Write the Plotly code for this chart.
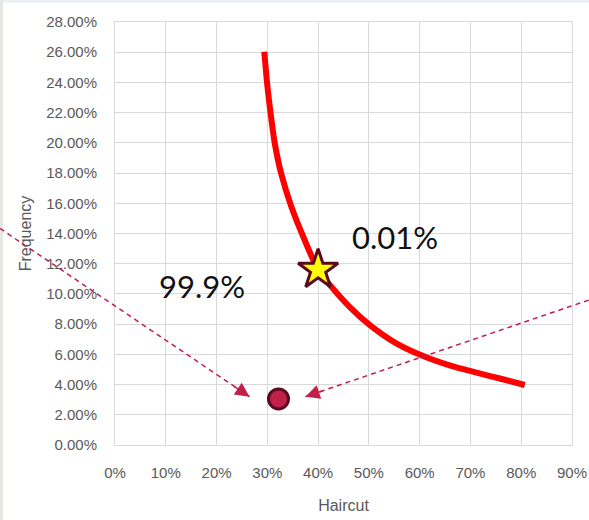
import plotly.graph_objects as go

# ---- data ----
curve_x = [0.294, 0.300, 0.307, 0.315, 0.327, 0.347, 0.373, 0.400, 0.423, 0.462, 0.502, 0.554, 0.607, 0.659, 0.712, 0.758, 0.807]
curve_y = [0.2603, 0.238, 0.218, 0.199, 0.180, 0.158, 0.136, 0.116, 0.106, 0.0915, 0.0794, 0.0673, 0.0589, 0.0527, 0.0479, 0.0440, 0.0397]

star_x = [0.400]
star_y = [0.116]

dot_x = [0.322]
dot_y = [0.0305]

# dashed arrows: start (outside plot) -> tip
arrow_start_x = [-0.30, 1.00]
arrow_start_y = [0.160, 0.1036]
arrow_tip_x = [0.265, 0.375]
arrow_tip_y = [0.032, 0.032]

label_text = ["99.9%", "0.01%"]
label_x = [0.172, 0.551]
label_y = [0.105, 0.138]

x_range = [0, 0.9]
y_range = [0, 0.28]

# ---- style ----
RED = "#FF0000"
CRIMSON = "#C0204A"
DARK = "#5A0A1E"
GRID = "#D9D9D9"
TICK = "#595959"

W, H = 589, 520
ML, MR, MT, MB = 115, 17, 22, 75

fig = go.Figure()

fig.add_trace(go.Scatter(
    x=curve_x, y=curve_y, mode="lines",
    line=dict(color=RED, width=6, shape="spline", smoothing=0.8),
    hoverinfo="skip", showlegend=False))

fig.add_trace(go.Scatter(
    x=star_x, y=star_y, mode="markers",
    marker=dict(symbol="star", size=30, color="#FFFF00", line=dict(color=DARK, width=3)),
    cliponaxis=False, showlegend=False))

fig.add_trace(go.Scatter(
    x=dot_x, y=dot_y, mode="markers",
    marker=dict(symbol="circle", size=20, color=CRIMSON, line=dict(color=DARK, width=3)),
    cliponaxis=False, showlegend=False))

shapes = []
annotations = []
xspan = x_range[1] - x_range[0]
yspan = y_range[1] - y_range[0]
for sx, sy, tx, ty in zip(arrow_start_x, arrow_start_y, arrow_tip_x, arrow_tip_y):
    shapes.append(dict(
        type="line", xref="x domain", yref="y domain",
        x0=(sx - x_range[0]) / xspan, y0=(sy - y_range[0]) / yspan,
        x1=(tx - x_range[0]) / xspan, y1=(ty - y_range[0]) / yspan,
        line=dict(color=CRIMSON, width=1.5, dash="5px,4px"), layer="above"))
    # arrow head only: tail slightly back along the line
    f = 0.06
    annotations.append(dict(
        x=tx, y=ty, xref="x", yref="y",
        ax=tx + (sx - tx) * f, ay=ty + (sy - ty) * f, axref="x", ayref="y",
        showarrow=True, arrowhead=2, arrowsize=1.9, arrowwidth=1.5,
        arrowcolor=CRIMSON, text=""))

for t, lx, ly in zip(label_text, label_x, label_y):
    annotations.append(dict(
        x=lx, y=ly, xref="x", yref="y", text=t, showarrow=False,
        font=dict(family="Lato, sans-serif", size=31, color="#111111")))

# page edge strips
pw = W - ML - MR
ph = H - MT - MB
shapes.append(dict(type="rect", xref="paper", yref="paper",
                   x0=-ML / pw, x1=(W - ML) / pw,
                   y0=1 + (MT - 3) / ph, y1=1 + MT / ph,
                   fillcolor="#EEF1F4", line=dict(width=0), layer="below"))
shapes.append(dict(type="rect", xref="paper", yref="paper",
                   x0=-ML / pw, x1=(-ML + 3) / pw, y0=-MB / ph, y1=1 + MT / ph,
                   fillcolor="#E6E6E2", line=dict(width=0), layer="below"))

fig.update_layout(
    width=W, height=H,
    margin=dict(l=ML, r=MR, t=MT, b=MB, autoexpand=False),
    paper_bgcolor="white", plot_bgcolor="white",
    font=dict(family="Liberation Sans, Arial, sans-serif", size=15, color=TICK),
    shapes=shapes, annotations=annotations,
    showlegend=False,
)
fig.update_xaxes(
    range=x_range, dtick=0.1, tick0=0, tickformat=".0%",
    showgrid=True, gridcolor=GRID, gridwidth=1,
    showline=True, linecolor=GRID, linewidth=1, mirror=True,
    zeroline=False, ticks="outside", ticklen=14, tickcolor="rgba(0,0,0,0)",
    tickfont=dict(size=15, color=TICK),
    title=dict(text="Haircut", font=dict(size=16, color=TICK), standoff=19),
    automargin=False)
fig.update_yaxes(
    range=y_range, dtick=0.02, tick0=0, tickformat=".2%",
    showgrid=True, gridcolor=GRID, gridwidth=1,
    showline=True, linecolor=GRID, linewidth=1, mirror=True,
    zeroline=False, ticks="outside", ticklen=14, tickcolor="rgba(0,0,0,0)",
    tickfont=dict(size=15, color=TICK),
    title=dict(text="Frequency", font=dict(size=16, color=TICK), standoff=10),
    automargin=False)

fig.write_html("out.html")
